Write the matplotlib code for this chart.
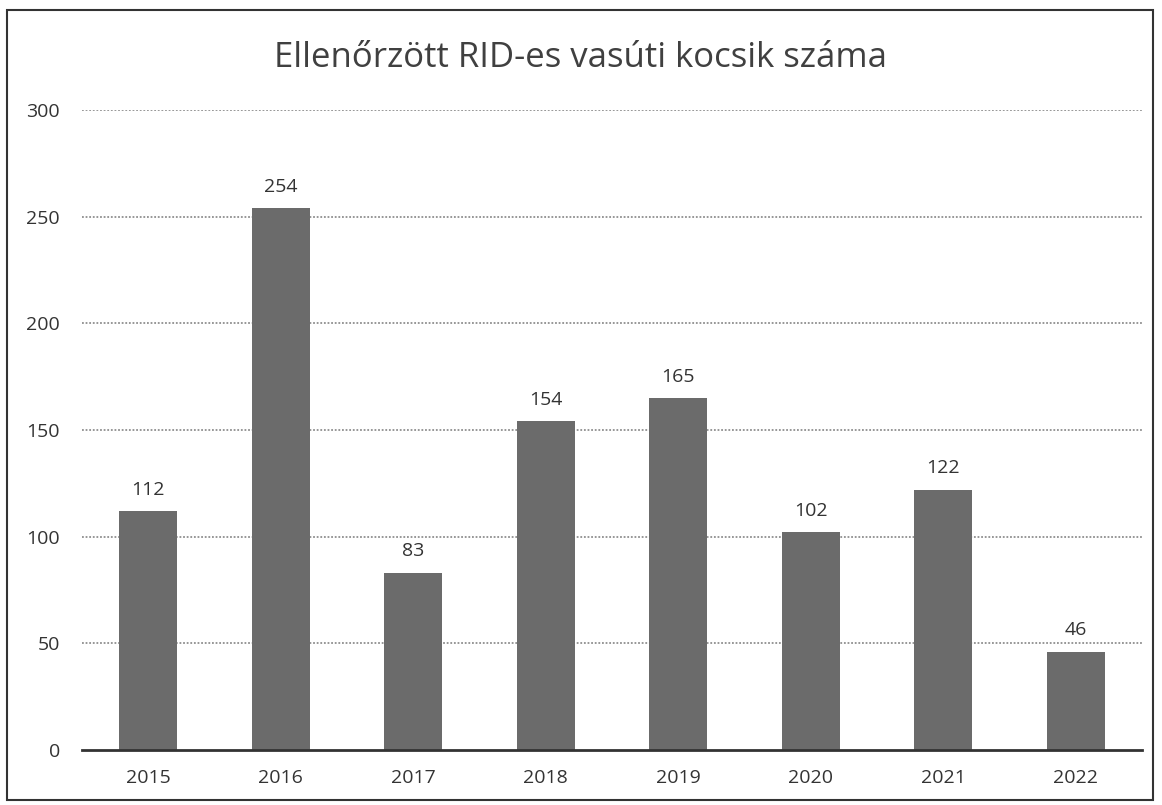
import matplotlib
matplotlib.use("Agg")
import matplotlib.pyplot as plt
from matplotlib.patches import Rectangle

years = ["2015", "2016", "2017", "2018", "2019", "2020", "2021", "2022"]
values = [112, 254, 83, 154, 165, 102, 122, 46]
yticks = [0, 50, 100, 150, 200, 250, 300]
title = "Ellenőrzött RID-es vasúti kocsik száma"

plt.rcParams['font.family'] = ['Open Sans', 'DejaVu Sans']
W, H = 1162, 805
fig = plt.figure(figsize=(W/100, H/100), dpi=100)
ax = fig.add_axes([82/W, 1-750/H, (1142-82)/W, (750-110)/H])

x = list(range(len(years)))
ax.bar(x, values, width=0.44, color="#6b6b6b", zorder=3)
for xi, v in zip(x, values):
    ax.annotate(str(v), (xi, v), xytext=(0, 9), textcoords="offset points",
                ha="center", va="bottom", fontsize=14, color="#333333")

ax.set_xlim(-0.5, len(years)-0.5)
ax.set_ylim(0, 300)
ax.set_yticks(yticks)
ax.set_yticklabels([str(t) for t in yticks])
ax.set_xticks(x)
ax.set_xticklabels(years)
ax.tick_params(axis="both", length=0, labelsize=14, labelcolor="#333333")
ax.tick_params(axis="y", pad=16)
ax.tick_params(axis="x", pad=14)
for yt in yticks[1:]:
    ax.axhline(yt, color="#8f8f8f", lw=1.3, ls=(0, (1, 1)), zorder=1)
for s in ["top", "right", "left"]:
    ax.spines[s].set_visible(False)
ax.spines["bottom"].set_color("#333333")
ax.spines["bottom"].set_linewidth(2)
ax.spines["bottom"].set_zorder(4)

fig.text(581/W, 1-58/H, title, ha="center", va="center",
         fontsize=25, color="#404040")
fig.patches.append(Rectangle((7/W, 1-800/H), (1153-7)/W, (800-10)/H,
                             transform=fig.transFigure, fill=False,
                             edgecolor="#333333", lw=1.5))
fig.savefig("out.png", dpi=100)
